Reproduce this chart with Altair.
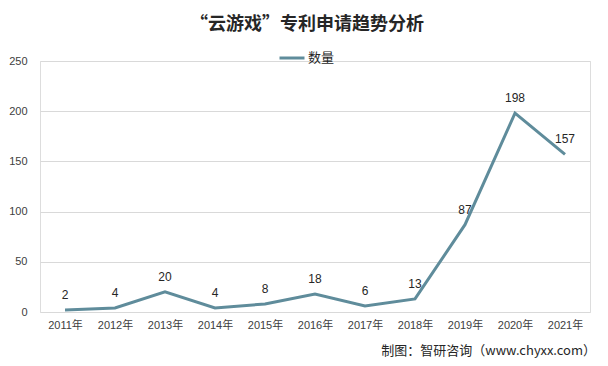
import altair as alt
import pandas as pd

years = ["2011年", "2012年", "2013年", "2014年", "2015年", "2016年",
         "2017年", "2018年", "2019年", "2020年", "2021年"]
counts = [2, 4, 20, 4, 8, 18, 6, 13, 87, 198, 157]
series_name = "数量"
title_text = "“云游戏”专利申请趋势分析"
source_text = "制图：智研咨询（www.chyxx.com）"

df = pd.DataFrame({"year": years, "count": counts, "series": [series_name] * len(years)})

LINE = "#5F8C9B"
FONT = "Liberation Sans, Noto Sans CJK SC"

x = alt.X("year:N", sort=years, title=None,
          scale=alt.Scale(paddingInner=0, paddingOuter=0.5),
          axis=alt.Axis(labelAngle=0, ticks=False, domain=False, labelPadding=7,
                        labelFontSize=11, labelColor="#404040", labelFont=FONT))
y = alt.Y("count:Q", title=None,
          scale=alt.Scale(domain=[0, 250], nice=False),
          axis=alt.Axis(values=[0, 50, 100, 150, 200, 250], ticks=False, domain=False,
                        labelPadding=13, labelFontSize=11, labelColor="#404040",
                        labelFont=FONT, gridColor="#D9D9D9", gridWidth=1))

line = alt.Chart(df).mark_line(strokeWidth=3).encode(
    x=x, y=y,
    color=alt.Color("series:N", scale=alt.Scale(range=[LINE]),
                    legend=alt.Legend(orient="none", legendX=238, legendY=-17,
                                      direction="horizontal", title=None,
                                      symbolType="stroke", symbolSize=625,
                                      symbolStrokeWidth=3, labelFontSize=13,
                                      labelFont="Noto Sans CJK SC", labelColor="#262626",
                                      labelOffset=2)),
)

labels = alt.Chart(df).mark_text(dy=-15, fontSize=12, color="#262626", font=FONT).encode(
    x=alt.X("year:N", sort=years), y="count:Q", text="count:Q"
)

footer = alt.Chart(pd.DataFrame({"t": [source_text]})).mark_text(
    align="right", baseline="middle", fontSize=13, color="#262626", font="Noto Sans CJK SC"
).encode(x=alt.value(556), y=alt.value(290), text="t:N")

chart = alt.layer(line, labels, footer).properties(
    width=550, height=251,
    padding={"left": 32, "top": 53, "right": 10, "bottom": 46},
    autosize=alt.AutoSizeParams(type="none"),
    title=alt.TitleParams(title_text, fontSize=18, font="Noto Sans CJK SC", fontWeight="bold",
                          color="#262626", anchor="middle", frame="group", dx=-8, offset=10),
).configure_view(stroke=None).configure(background="white")

chart.save("out.html", embed_options={"renderer": "svg", "actions": False})
